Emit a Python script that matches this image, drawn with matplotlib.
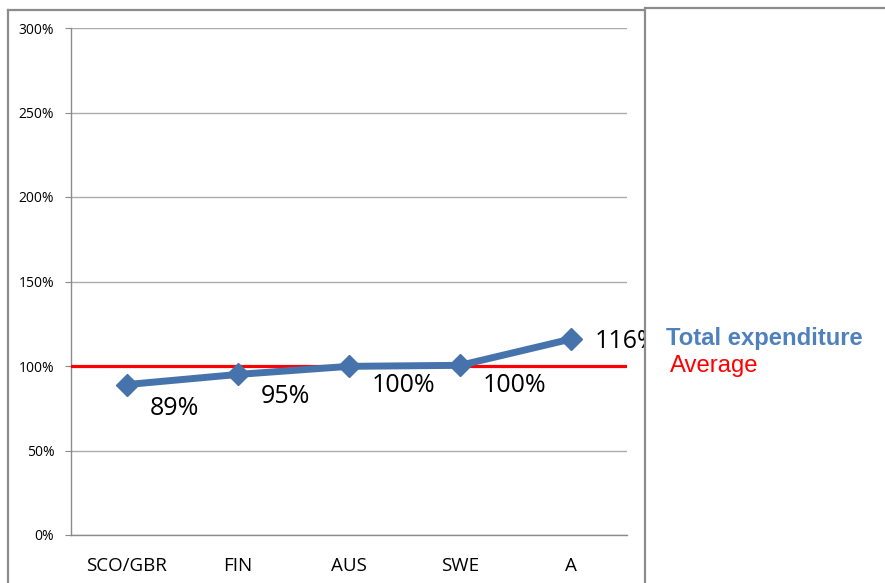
import matplotlib
matplotlib.use("Agg")
import matplotlib.pyplot as plt
from matplotlib.patches import Rectangle
from matplotlib.lines import Line2D
from matplotlib.ticker import PercentFormatter

categories = ["SCO/GBR", "FIN", "AUS", "SWE", "A"]
total_expenditure = [0.89, 0.95, 0.998, 1.004, 1.16]
average = 1.0
y_ticks = [0, 0.5, 1.0, 1.5, 2.0, 2.5, 3.0]

# label offsets (points) – style only
label_dx = [16.5, 16.5, 16.5, 16.5, 16.5]
label_dy = [-17, -16, -14, -14.5, -1.5]

W, H = 885, 583
fig = plt.figure(figsize=(W / 100, H / 100), dpi=100)
fig.patch.set_facecolor("white")

ax = fig.add_axes([71 / W, 1 - 535 / H, (627 - 71) / W, (535 - 28) / H])
x = list(range(len(categories)))

ax.set_xlim(-0.5, len(categories) - 0.5)
ax.set_ylim(0, 3.0)
ax.set_yticks(y_ticks)
ax.yaxis.set_major_formatter(PercentFormatter(1.0, decimals=0))
ax.set_xticks(x)
ax.set_xticklabels(categories, fontfamily="Open Sans", fontsize=13.5)
for lab in ax.get_yticklabels():
    lab.set_fontfamily("Open Sans")
    lab.set_fontsize(10)
ax.tick_params(axis="y", length=4, color="#8c8c8c", pad=8)
ax.tick_params(axis="x", length=0, pad=16)
ax.grid(axis="y", color="#ababab", linewidth=1)
ax.set_axisbelow(True)
for s in ["top", "right"]:
    ax.spines[s].set_visible(False)
for s in ["left", "bottom"]:
    ax.spines[s].set_color("#8c8c8c")
    ax.spines[s].set_linewidth(1)

ax.axhline(average, color="#ff0000", linewidth=2.3, zorder=3)
ax.plot(x, total_expenditure, color="#4673ab", linewidth=5, marker="D",
        markersize=11.5, zorder=4, solid_joinstyle="round")

for xi, v, dx, dy in zip(x, total_expenditure, label_dx, label_dy):
    ax.annotate(f"{v:.0%}", (xi, v), xytext=(dx, dy), textcoords="offset points",
                ha="left", va="center", fontsize=18, fontfamily="Open Sans",
                color="black", annotation_clip=False, zorder=5)

# outer chart frame
frame_color = "#8c8c8c"
fig.add_artist(Line2D([8 / W, 8 / W], [0, 1 - 10 / H], transform=fig.transFigure,
                      color=frame_color, linewidth=1.6))
fig.add_artist(Line2D([8 / W, 645 / W], [1 - 10 / H, 1 - 10 / H], transform=fig.transFigure,
                      color=frame_color, linewidth=1.6))

# legend box (covers the clipped label)
box = Rectangle((645 / W, -0.01), (W - 645 + 10) / W, 1 - 8 / H + 0.01,
                transform=fig.transFigure, facecolor="white", edgecolor=frame_color,
                linewidth=1.6, zorder=10)
fig.add_artist(box)

fig.text(666 / W, 1 - 338 / H, "Total expenditure", color="#4f81bd", fontweight="bold",
         fontsize=17.2, fontfamily="Liberation Sans", ha="left", va="center", zorder=11)
fig.text(670 / W, 1 - 366 / H, "Average", color="#ff0000",
         fontsize=17.2, fontfamily="Liberation Sans", ha="left", va="center", zorder=11)

fig.savefig("out.png", dpi=100)
